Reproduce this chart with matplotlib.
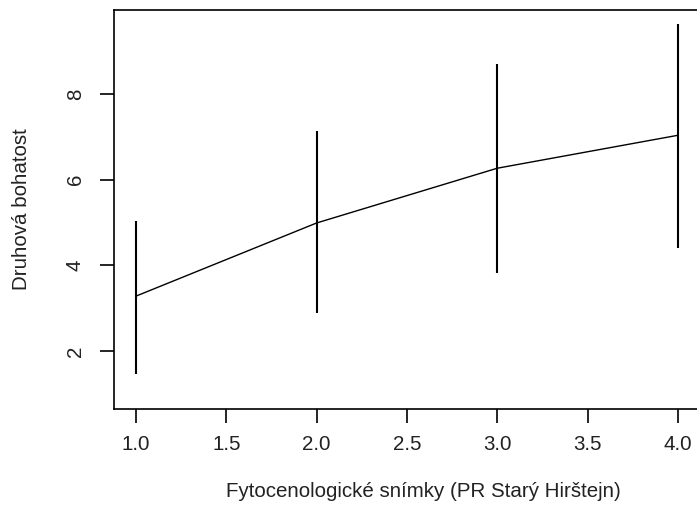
import matplotlib
matplotlib.use("Agg")
import matplotlib.pyplot as plt
import numpy as np

# data
releves = [1, 2, 3, 4]
mean_richness = [3.28, 4.99, 6.27, 7.04]
upper = [5.04, 7.15, 8.71, 9.64]
lower = [1.46, 2.88, 3.83, 4.40]

plt.rcParams['font.family'] = ['Liberation Sans', 'DejaVu Sans']

fig = plt.figure(figsize=(6.97, 5.23), dpi=100)
# plot region runs past the right edge of the picture (cropped original)
ax = fig.add_axes([114/697, (523-409)/523, (732-114)/697, (409-10)/523])

ax.plot(releves, mean_richness, color='black', lw=1.0)
ax.vlines(releves, lower, upper, color='black', lw=1.5)

ax.set_xlim(0.878, 4.30)
ax.set_ylim(0.64, 9.97)
ax.set_xticks(np.arange(1.0, 4.01, 0.5))
ax.set_xticklabels(["%.1f" % v for v in np.arange(1.0, 4.01, 0.5)])
ax.set_yticks([2, 4, 6, 8])
ax.set_yticklabels(["2", "4", "6", "8"], rotation=90, va='center')

for s in ax.spines.values():
    s.set_linewidth(1.2)
ax.tick_params(direction='out', length=10, width=1.2, labelsize=14.8, pad=9, labelcolor='#222222')
ax.tick_params(axis='y', pad=11)

ax.set_xlabel("Fytocenologické snímky (PR Starý Hirštejn)", fontsize=14.8, labelpad=20, color='#222222')
ax.set_ylabel("Druhová bohatost", fontsize=14.8, labelpad=25, color='#222222')

fig.savefig("out.png", dpi=100)
